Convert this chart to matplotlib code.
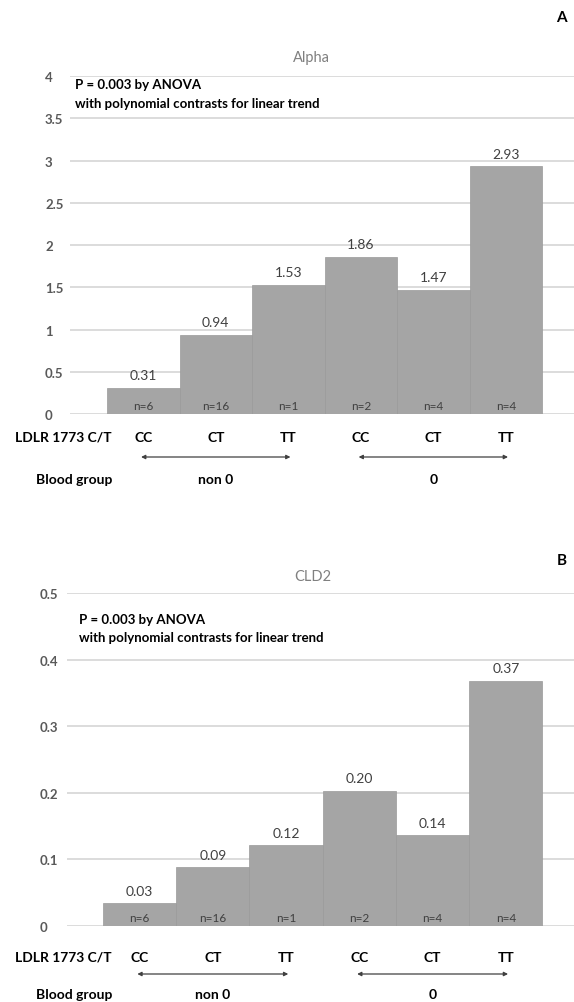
import matplotlib
matplotlib.use("Agg")
import matplotlib.pyplot as plt
from matplotlib.transforms import blended_transform_factory

plt.rcParams['font.family'] = ['Lato', 'DejaVu Sans']

W, H = 574, 1003

genotypes = ["CC", "CT", "TT", "CC", "CT", "TT"]
n_counts = [6, 16, 1, 2, 4, 4]
blood_groups = ["non 0", "0"]
alpha = [0.31, 0.94, 1.53, 1.86, 1.47, 2.93]
cld2 = [0.034, 0.088, 0.121, 0.203, 0.136, 0.368]
alpha_ticks = [0, 0.5, 1, 1.5, 2, 2.5, 3, 3.5, 4]
cld2_ticks = [0, 0.1, 0.2, 0.3, 0.4, 0.5]

bar_col = "#a5a5a5"
grid_col = "#d9d9d9"
txt_col = "#404040"


def fy(py):
    return 1 - py / H


def panel(fig, rect, vals, ticks, title, letter, p):
    ax = fig.add_axes(rect)
    x = range(len(vals))
    ax.bar(x, vals, width=1.0, color=bar_col, edgecolor="#9a9a9a", linewidth=0.5, zorder=2)
    ax.set_xlim(p["xlim"])
    ax.set_ylim(ticks[0], ticks[-1])
    ax.set_yticks(ticks)
    ax.set_yticklabels(["%g" % t for t in ticks], fontsize=9.5, fontweight="bold", color="#595959")
    for lab in ax.get_yticklabels():
        lab.set_ha("left")
    ax.tick_params(axis="y", length=0, pad=p["ypad"])
    ax.set_xticks([])
    ax.grid(axis="y", color=grid_col, linewidth=1.3, zorder=0)
    for s in ax.spines.values():
        s.set_visible(False)

    for i, v in enumerate(vals):
        ax.annotate("%.2f" % v, (i, v), xytext=(0, 9), textcoords="offset points",
                    ha="center", va="center", fontsize=10, color=txt_col)
        ax.annotate("n=%d" % n_counts[i], (i, 0), xytext=(0, 6), textcoords="offset points",
                    ha="center", va="center", fontsize=8.5, color=txt_col)

    tr = blended_transform_factory(ax.transData, fig.transFigure)
    for i, g in enumerate(genotypes):
        ax.text(i, fy(p["geno_y"]), g, transform=tr, ha="center", va="center",
                fontsize=10, fontweight="bold", color="black")
    for k, bg in enumerate(blood_groups):
        i0 = 3 * k
        ax.annotate("", xy=(i0 + 2.03, fy(p["arrow_y"])), xytext=(i0 - 0.03, fy(p["arrow_y"])),
                    xycoords=tr, textcoords=tr,
                    arrowprops=dict(arrowstyle="<|-|>", color=txt_col, lw=0.9, mutation_scale=6,
                                    shrinkA=0, shrinkB=0))
        ax.text(i0 + 1, fy(p["bg_y"]), bg, transform=tr, ha="center", va="center",
                fontsize=10, fontweight="bold", color="black")

    fig.text(112 / W, fy(p["geno_y"]), "LDLR 1773 C/T", ha="right", va="center",
             fontsize=10, fontweight="bold")
    fig.text(112 / W, fy(p["bg_y"]), "Blood group", ha="right", va="center",
             fontsize=10, fontweight="bold")
    fig.text(p["title_x"] / W, fy(p["title_y"]), title, ha="center", va="center",
             fontsize=10.5, color="#808080")
    fig.text(p["letter_x"] / W, fy(p["letter_y"]), letter, ha="center", va="center",
             fontsize=11, fontweight="bold")
    fig.text(p["p_x"] / W, fy(p["p_y"][0]), "P = 0.003 by ANOVA", ha="left", va="center",
             fontsize=9.5, fontweight="bold")
    fig.text(p["p_x"] / W, fy(p["p_y"][1]), "with polynomial contrasts for linear trend",
             ha="left", va="center", fontsize=9.5, fontweight="bold")
    return ax


fig = plt.figure(figsize=(W / 100, H / 100), dpi=100)

panel(fig, [70 / W, fy(415), 504 / W, 338 / H], alpha, alpha_ticks, "Alpha", "A",
      dict(xlim=(-1.01, 5.94), ypad=18, geno_y=438, arrow_y=458, bg_y=480,
           title_x=311, title_y=58, letter_x=561, letter_y=18, p_x=75, p_y=(85, 104)))

panel(fig, [67 / W, fy(927), 507 / W, 333 / H], cld2, cld2_ticks, "CLD2", "B",
      dict(xlim=(-0.99, 5.93), ypad=20, geno_y=958, arrow_y=975, bg_y=995,
           title_x=313, title_y=577, letter_x=562, letter_y=561, p_x=79, p_y=(620, 638)))

fig.savefig("out.png", dpi=100)
